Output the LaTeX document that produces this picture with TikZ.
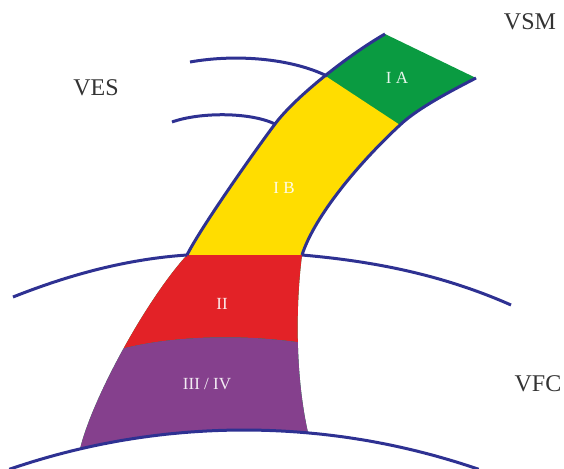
\documentclass[tikz,border=0pt]{standalone}
\usepackage{fontspec}
\setmainfont{Liberation Serif}
\definecolor{bandgreen}{RGB}{10,155,65}
\definecolor{bandyellow}{RGB}{255,221,0}
\definecolor{bandred}{RGB}{227,34,39}
\definecolor{bandpurple}{RGB}{133,64,141}
\definecolor{lineblue}{RGB}{46,49,146}
\begin{document}
\begin{tikzpicture}[x=1pt,y=-1pt,
  edgeline/.style={draw=lineblue, line width=3pt},
  zonelabel/.style={text=white, text opacity=0.9, font=\fontsize{17}{17}\selectfont, inner sep=0pt},
  regionlabel/.style={text=black!80, font=\fontsize{24}{24}\selectfont, inner sep=0pt}]
\useasboundingbox (0,0) rectangle (564,468);

% coloured band, clipped to its outline
\begin{scope}
\clip (385,34) .. controls (350,54) and (296,96) .. (275,124)
  .. controls (254,152) and (200.5,228) .. (187,255)
  .. controls (146,300) and (92,399) .. (80,449)
  -- plot[domain=103.15:84.9, samples=30] ({244+721*cos(\x)},{1151-721*sin(\x)})
  .. controls (296,380) and (295,310) .. (302,255)
  .. controls (315,215) and (360,162) .. (400,125)
  .. controls (418,108) and (451,91) .. (476,78)
  -- cycle;
\fill[bandgreen] (0,0) rectangle (564,468);
\fill[bandyellow] (100,255) -- (100,29) -- (254,29) -- (473,173) -- (473,255) -- cycle;
\fill[bandred] (60,255) -- (330,255) -- (330,348) -- (310,344) .. controls (250,334) and (170,334) .. (110,352) -- (60,362) -- cycle;
\fill[bandpurple] (60,362) -- (110,352) .. controls (170,334) and (250,334) .. (310,344) -- (330,348) -- (330,470) -- (60,470) -- cycle;
\end{scope}

% band edges
\draw[edgeline] (385,34) .. controls (350,54) and (296,96) .. (275,124)
  .. controls (254,152) and (200.5,228) .. (187,255);
\draw[edgeline] (302,255) .. controls (315,215) and (360,162) .. (400,125)
  .. controls (418,108) and (451,91) .. (476,78);

% arcs
\draw[edgeline] (190,62) .. controls (235,54) and (290,58) .. (327,76);
\draw[edgeline] (172,122) .. controls (200,112) and (250,112) .. (275,124);
\draw[edgeline] (13,297) .. controls (71,274) and (128,259) .. (187,255);
\draw[edgeline] (302,255) .. controls (371,261) and (441,274) .. (511,305);
\draw[edgeline] plot[domain=109:71, samples=60] ({244+721*cos(\x)},{1151-721*sin(\x)});

% zone labels
\node[zonelabel] (ia) at (397,78) {I A};
\node[zonelabel] (ib) at (284,188) {I B};
\node[zonelabel] (ii) at (222,304) {II};
\node[zonelabel] (iiiiv) at (207,384) {III / IV};

% region labels
\node[regionlabel] (ves) at (96,88) {VES};
\node[regionlabel] (vsm) at (530,22) {VSM};
\node[regionlabel] (vfc) at (538,384) {VFC};
\end{tikzpicture}
\end{document}
